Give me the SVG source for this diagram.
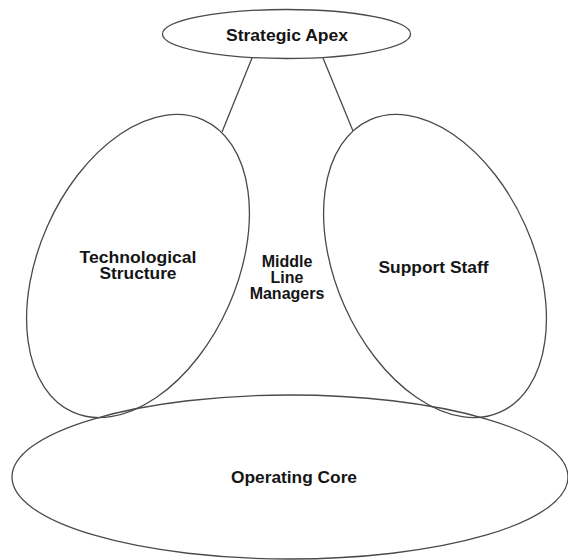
<svg xmlns="http://www.w3.org/2000/svg" width="568" height="560" viewBox="0 0 568 560">
  <style>
    .shape { fill: none; stroke: #4a4a4a; stroke-width: 1.3; }
    .link { stroke: #4a4a4a; stroke-width: 1.3; fill: none; }
    .label { font-family: "Liberation Sans", Arial, sans-serif; font-weight: bold; font-size: 16px; fill: #151515; text-anchor: middle; }
  </style>
  <rect width="568" height="560" fill="#ffffff"/>

  <g id="connectors">
    <line class="link" x1="252" y1="58" x2="222" y2="132"/>
    <line class="link" x1="323" y1="58" x2="353" y2="131"/>
  </g>

  <g id="strategic-apex">
    <ellipse class="shape" cx="286.5" cy="34" rx="124" ry="24.5"/>
    <text class="label" x="287" y="40.5" textLength="122" lengthAdjust="spacingAndGlyphs">Strategic Apex</text>
  </g>

  <g id="technological-structure">
    <ellipse class="shape" cx="138" cy="266" rx="99" ry="160" transform="rotate(24 138 266)"/>
    <text class="label" x="138" y="262.5" textLength="117" lengthAdjust="spacingAndGlyphs">Technological</text>
    <text class="label" x="138" y="279" textLength="77" lengthAdjust="spacingAndGlyphs">Structure</text>
  </g>

  <g id="support-staff">
    <ellipse class="shape" cx="435" cy="266" rx="99" ry="160" transform="rotate(-24 435 266)"/>
    <text class="label" x="433.5" y="273" textLength="110" lengthAdjust="spacingAndGlyphs">Support Staff</text>
  </g>

  <g id="middle-line-managers">
    <text class="label" x="287" y="267">Middle</text>
    <text class="label" x="287" y="283">Line</text>
    <text class="label" x="287" y="299">Managers</text>
  </g>

  <g id="operating-core">
    <ellipse class="shape" cx="290" cy="477" rx="278" ry="82"/>
    <text class="label" x="294" y="483" textLength="126" lengthAdjust="spacingAndGlyphs">Operating Core</text>
  </g>
</svg>
